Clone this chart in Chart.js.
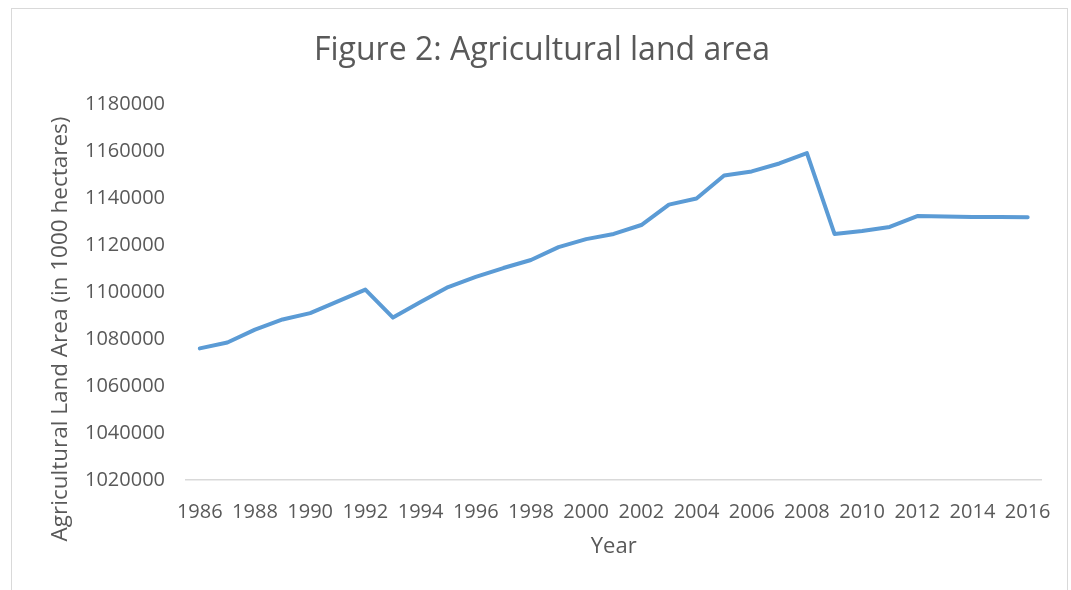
<!DOCTYPE html>
<html>
<head>
<meta charset="utf-8">
<script src="https://cdn.jsdelivr.net/npm/chart.js@4/dist/chart.umd.min.js"></script>
<style>
  html, body { margin: 0; padding: 0; background: #fff; overflow: hidden; }
  #wrap { position: relative; width: 1071px; height: 590px; }
  #frame { position: absolute; left: 11px; top: 8px; width: 1057px; height: 700px;
           border: 1px solid #d9d9d9; box-sizing: border-box; }
  canvas { position: absolute; left: 0; top: 0; }
</style>
</head>
<body>
<div id="wrap">
  <div id="frame"></div>
  <canvas id="chart" width="1071" height="590"></canvas>
</div>
<script>
// Agricultural land area, thousand hectares, by year
const years = [1986, 1987, 1988, 1989, 1990, 1991, 1992, 1993, 1994, 1995, 1996,
               1997, 1998, 1999, 2000, 2001, 2002, 2003, 2004, 2005, 2006, 2007,
               2008, 2009, 2010, 2011, 2012, 2013, 2014, 2015, 2016];
const landArea = [1076000, 1078500, 1084000, 1088300, 1091000, 1096000, 1101000,
                  1089100, 1095700, 1102100, 1106400, 1110200, 1113600, 1119100,
                  1122500, 1124700, 1128500, 1137200, 1139800, 1149600, 1151300,
                  1154700, 1159100, 1124700, 1126000, 1127700, 1132300, 1132100,
                  1131900, 1131900, 1131800];
const yMin = 1020000;
const yMax = 1180000;
const yStep = 20000;

const chartTitle = 'Figure 2: Agricultural land area';
const xTitle = 'Year';
const yTitle = 'Agricultural Land Area (in 1000 hectares)';

const FONT = "'Open Sans', sans-serif";
const TEXT = '#595959';

// Chart heading and rotated value-axis caption
const captions = {
  id: 'captions',
  afterDraw(chart) {
    const ctx = chart.ctx;
    ctx.save();
    ctx.fillStyle = TEXT;
    ctx.textAlign = 'center';
    ctx.textBaseline = 'middle';
    ctx.font = `32px ${FONT}`;
    ctx.fillText(chartTitle, 542, 51);
    ctx.translate(61, 329);
    ctx.rotate(-Math.PI / 2);
    ctx.font = `22.5px ${FONT}`;
    ctx.fillText(yTitle, 0, 0);
    ctx.restore();
  }
};

new Chart(document.getElementById('chart'), {
  type: 'line',
  data: {
    labels: years,
    datasets: [{
      data: landArea,
      borderColor: '#5b9bd5',
      borderWidth: 4,
      borderJoinStyle: 'round',
      borderCapStyle: 'round',
      pointRadius: 0,
      tension: 0,
      fill: false
    }]
  },
  options: {
    responsive: false,
    animation: false,
    devicePixelRatio: 1,
    layout: { padding: { left: 0, right: 29, top: 104, bottom: 0 } },
    plugins: { legend: { display: false }, tooltip: { enabled: false }, title: { display: false } },
    scales: {
      x: {
        type: 'category',
        offset: true,
        grid: { display: false, drawTicks: false },
        border: { display: true, color: '#d9d9d9', width: 1.5 },
        ticks: {
          autoSkip: false,
          maxRotation: 0,
          minRotation: 0,
          padding: 20,
          color: TEXT,
          font: { family: FONT, size: 20 },
          callback: function (value, index) {
            const yr = years[index];
            return yr % 2 === 0 ? String(yr) : '';
          }
        },
        title: {
          display: true,
          text: xTitle,
          color: TEXT,
          font: { family: FONT, size: 22 },
          padding: { top: 0, bottom: 30 }
        },
        afterFit(scale) { scale.height = 110; }
      },
      y: {
        min: yMin,
        max: yMax,
        grid: { display: false, drawTicks: false },
        border: { display: false },
        ticks: {
          stepSize: yStep,
          padding: 21,
          color: TEXT,
          font: { family: FONT, size: 20 },
          callback: v => String(v)
        },
        afterFit(scale) { scale.width = 186; }
      }
    }
  },
  plugins: [captions]
});
</script>
</body>
</html>
